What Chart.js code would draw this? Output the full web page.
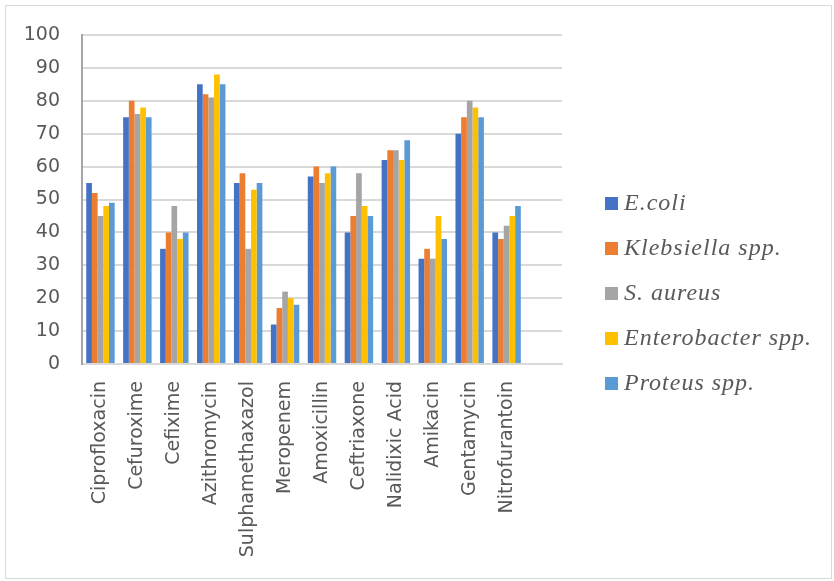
<!DOCTYPE html>
<html>
<head>
<meta charset="utf-8">
<script src="https://cdn.jsdelivr.net/npm/chart.js@4/dist/chart.umd.min.js"></script>
<style>
  body { margin: 0; background: #fff; }
  #wrap { position: relative; width: 834px; height: 581px; }
  #frame { position: absolute; left: 5px; top: 5px; width: 827px; height: 574px; border: 1px solid #d9d9d9; box-sizing: border-box; }
  #chart { position: absolute; left: 0; top: 0; }
  #legend { position: absolute; left: 605px; top: 180px; font-family: "Liberation Serif", "Times New Roman", "DejaVu Serif", serif; font-style: italic; font-size: 24px; letter-spacing: 1px; color: #595959; }
  #legend div { height: 45px; line-height: 45px; white-space: nowrap; }
  #legend span { display: inline-block; width: 13px; height: 13px; margin-right: 6px; vertical-align: 0px; }
</style>
</head>
<body>
<div id="wrap">
  <div id="frame"></div>
  <canvas id="chart" width="834" height="581"></canvas>
  <div id="legend"></div>
</div>
<script>
const drugs = ["Ciprofloxacin", "Cefuroxime", "Cefixime", "Azithromycin", "Sulphamethaxazol",
  "Meropenem", "Amoxicillin", "Ceftriaxone", "Nalidixic Acid", "Amikacin", "Gentamycin",
  "Nitrofurantoin", ""];
const ecoli        = [55, 75, 35, 85, 55, 12, 57, 40, 62, 32, 70, 40];
const klebsiella   = [52, 80, 40, 82, 58, 17, 60, 45, 65, 35, 75, 38];
const saureus      = [45, 76, 48, 81, 35, 22, 55, 58, 65, 32, 80, 42];
const enterobacter = [48, 78, 38, 88, 53, 20, 58, 48, 62, 45, 78, 45];
const proteus      = [49, 75, 40, 85, 55, 18, 60, 45, 68, 38, 75, 48];
const yTicks = [0, 10, 20, 30, 40, 50, 60, 70, 80, 90, 100];

const series = [
  { name: "E.coli", data: ecoli, color: "#4472C4" },
  { name: "Klebsiella spp.", data: klebsiella, color: "#ED7D31" },
  { name: "S. aureus", data: saureus, color: "#A5A5A5" },
  { name: "Enterobacter spp.", data: enterobacter, color: "#FFC000" },
  { name: "Proteus spp.", data: proteus, color: "#5B9BD5" },
];

// legend sits to the right of the plot, built from the series list
const legend = document.getElementById("legend");
series.forEach(s => {
  const row = document.createElement("div");
  const box = document.createElement("span");
  box.style.background = s.color;
  row.appendChild(box);
  row.appendChild(document.createTextNode(s.name));
  legend.appendChild(row);
});

const ctx = document.getElementById("chart").getContext("2d");
new Chart(ctx, {
  type: "bar",
  data: {
    labels: drugs,
    datasets: series.map(s => ({
      label: s.name,
      data: s.data,
      backgroundColor: s.color,
      borderWidth: 0,
      categoryPercentage: 0.77,
      barPercentage: 1.0,
    })),
  },
  options: {
    responsive: false,
    animation: false,
    layout: { padding: { top: 35, right: 272, bottom: 0, left: 0 } },
    plugins: { legend: { display: false }, tooltip: { enabled: false } },
    scales: {
      x: {
        grid: { display: false },
        border: { display: true, color: "#d9d9d9", width: 2 },
        ticks: {
          color: "#595959",
          font: { family: "DejaVu Sans", size: 19 },
          minRotation: 90,
          maxRotation: 90,
          autoSkip: false,
          padding: 9,
        },
        afterFit: scale => { scale.height = 217; },
      },
      y: {
        min: 0,
        max: 100,
        afterBuildTicks: scale => { scale.ticks = yTicks.map(v => ({ value: v })); },
        grid: { color: "#d9d9d9", lineWidth: 2, drawTicks: false },
        border: { display: true, color: "#a6a6a6", width: 2 },
        ticks: {
          color: "#595959",
          font: { family: "DejaVu Sans", size: 19 },
          padding: 22,
        },
        afterFit: scale => { scale.width = 82; },
      },
    },
  },
});
</script>
</body>
</html>
